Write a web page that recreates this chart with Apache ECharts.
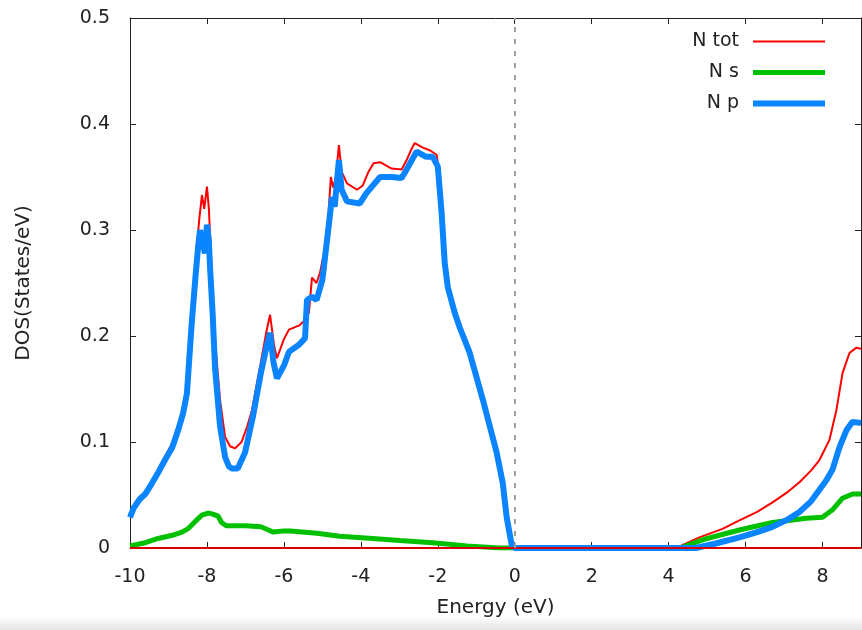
<!DOCTYPE html>
<html>
<head>
<meta charset="utf-8">
<script src="https://cdn.jsdelivr.net/npm/echarts@6/dist/echarts.min.js"></script>
<style>html,body{margin:0;padding:0;background:#fff;}#c{width:862px;height:630px;}</style>
</head>
<body>
<div id="c"></div>
<script>
// ---- data ----
const xTicks = [-10, -8, -6, -4, -2, 0, 2, 4, 6, 8];
const yTicks = [0, 0.1, 0.2, 0.3, 0.4, 0.5];
const seriesNames = ['N tot', 'N s', 'N p'];

const totE = [-10, -9.75, -9.5, -9.27, -9.09, -8.9, -8.75, -8.62, -8.52, -8.4, -8.3, -8.2, -8.13, -8.07, -8.0, -7.95, -7.9, -7.8, -7.66, -7.53, -7.4, -7.27, -7.1, -6.95, -6.83, -6.6, -6.45, -6.36, -6.25, -6.18, -6.0, -5.87, -5.6, -5.45, -5.35, -5.27, -5.15, -5.06, -4.95, -4.85, -4.78, -4.72, -4.65, -4.57, -4.5, -4.36, -4.1, -3.95, -3.8, -3.67, -3.5, -3.2, -2.94, -2.81, -2.7, -2.6, -2.4, -2.2, -2.03, -1.95, -1.9, -1.82, -1.74, -1.56, -1.43, -1.17, -0.83, -0.47, -0.31, -0.21, -0.08, 0, 4.2, 4.8, 5.4, 5.84, 6.3, 6.7, 7.1, 7.4, 7.7, 7.92, 8.18, 8.36, 8.52, 8.7, 8.88, 9];
const totDos = [0.032, 0.048, 0.056, 0.074, 0.086, 0.099, 0.116, 0.132, 0.152, 0.22, 0.27, 0.31, 0.333, 0.32, 0.341, 0.32, 0.28, 0.2, 0.14, 0.105, 0.096, 0.094, 0.1, 0.115, 0.13, 0.175, 0.205, 0.22, 0.19, 0.179, 0.197, 0.206, 0.21, 0.215, 0.222, 0.255, 0.25, 0.26, 0.28, 0.31, 0.35, 0.34, 0.35, 0.38, 0.355, 0.344, 0.338, 0.342, 0.355, 0.363, 0.364, 0.358, 0.357, 0.366, 0.375, 0.382, 0.378, 0.375, 0.371, 0.35, 0.33, 0.272, 0.25, 0.227, 0.21, 0.186, 0.142, 0.092, 0.062, 0.03, 0.004, 0, 0, 0.01, 0.018, 0.026, 0.034, 0.043, 0.053, 0.062, 0.073, 0.083, 0.102, 0.13, 0.165, 0.184, 0.189, 0.188];

const sE = [-10, -9.6, -9.27, -8.9, -8.65, -8.5, -8.39, -8.25, -8.13, -7.97, -7.85, -7.71, -7.62, -7.5, -7.0, -6.6, -6.4, -6.29, -6.0, -5.84, -5.14, -4.55, -3.69, -2.99, -2.13, -1.25, -0.4, 4.3, 4.6, 5.0, 5.84, 6.7, 7.58, 8.0, 8.26, 8.52, 8.78, 9];
const sDos = [0.002, 0.005, 0.009, 0.012, 0.015, 0.018, 0.022, 0.027, 0.031, 0.033, 0.032, 0.03, 0.024, 0.021, 0.021, 0.02, 0.017, 0.015, 0.016, 0.016, 0.014, 0.011, 0.009, 0.007, 0.005, 0.002, 0, 0, 0.004, 0.009, 0.017, 0.024, 0.028, 0.029, 0.036, 0.047, 0.051, 0.051];

const pE = [-10, -9.9, -9.75, -9.6, -9.43, -9.27, -9.09, -8.9, -8.75, -8.62, -8.52, -8.4, -8.3, -8.23, -8.18, -8.1, -8.05, -8.0, -7.95, -7.92, -7.85, -7.79, -7.66, -7.53, -7.43, -7.35, -7.2, -7.01, -6.8, -6.6, -6.45, -6.36, -6.27, -6.18, -6.0, -5.87, -5.6, -5.45, -5.4, -5.27, -5.15, -5.0, -4.88, -4.75, -4.68, -4.57, -4.5, -4.36, -4.03, -3.85, -3.5, -3.2, -2.94, -2.81, -2.55, -2.3, -2.13, -2.0, -1.9, -1.82, -1.74, -1.56, -1.43, -1.17, -0.83, -0.47, -0.31, -0.21, -0.08, 0, 4.7, 5.2, 5.84, 6.3, 6.7, 7.1, 7.4, 7.7, 7.92, 8.1, 8.26, 8.44, 8.62, 8.78, 9];
const pDos = [0.029, 0.038, 0.046, 0.051, 0.061, 0.071, 0.083, 0.095, 0.111, 0.127, 0.146, 0.21, 0.255, 0.284, 0.3, 0.285, 0.278, 0.305, 0.29, 0.265, 0.22, 0.17, 0.115, 0.086, 0.077, 0.075, 0.075, 0.09, 0.125, 0.165, 0.19, 0.203, 0.175, 0.16, 0.172, 0.185, 0.192, 0.198, 0.234, 0.237, 0.234, 0.253, 0.29, 0.331, 0.322, 0.366, 0.338, 0.327, 0.325, 0.335, 0.35, 0.35, 0.349, 0.357, 0.374, 0.369, 0.369, 0.36, 0.316, 0.269, 0.246, 0.222, 0.208, 0.184, 0.14, 0.09, 0.061, 0.029, 0.003, 0, 0, 0.004, 0.01, 0.015, 0.02, 0.027, 0.034, 0.044, 0.055, 0.064, 0.074, 0.095, 0.111, 0.119, 0.118];

function pairs(xs, ys) { return xs.map((x, i) => [x, ys[i]]); }

const FONT = 'DejaVu Sans';
const chart = echarts.init(document.getElementById('c'), null, {renderer: 'canvas'});
const axisLine = {show: true, onZero: false, lineStyle: {color: '#222', width: 1}};
const tick = {show: true, inside: true, length: 6, lineStyle: {color: '#222', width: 1}};

chart.setOption({
  animation: false,
  backgroundColor: '#fff',
  graphic: [{
    type: 'rect', z: -10, silent: true, shape: {x: 0, y: 616, width: 862, height: 14},
    style: {fill: new echarts.graphic.LinearGradient(0, 0, 0, 1, [{offset: 0, color: '#ffffff'}, {offset: 1, color: '#e4e4e4'}])}
  }],
  grid: {left: 130, right: 1, top: 18, bottom: 82, containLabel: false},
  legend: {
    orient: 'vertical', align: 'right', right: 32, top: 27,
    itemWidth: 72, itemHeight: 14, itemGap: 12,
    textStyle: {fontFamily: FONT, fontSize: 19, color: '#222', padding: [0, 9, 0, 0]},
    data: [
      {name: seriesNames[0], icon: 'path://M0,0H72V2H0Z'},
      {name: seriesNames[1], icon: 'path://M0,0H72V5H0Z'},
      {name: seriesNames[2], icon: 'path://M0,0H72V6H0Z'}
    ]
  },
  xAxis: [{
    type: 'value', min: -10, max: 9, interval: 2, position: 'bottom',
    name: 'Energy (eV)', nameLocation: 'middle', nameGap: 50,
    nameTextStyle: {fontFamily: FONT, fontSize: 20, color: '#222'},
    axisLine: axisLine, splitLine: {show: false},
    axisLabel: {fontFamily: FONT, fontSize: 19, color: '#222', margin: 20, customValues: xTicks},
    axisTick: Object.assign({}, tick, {customValues: xTicks})
  }, {
    type: 'value', min: -10, max: 9, interval: 2, position: 'top',
    axisLine: axisLine, axisTick: Object.assign({}, tick, {customValues: xTicks}),
    axisLabel: {show: false}, splitLine: {show: false}
  }],
  yAxis: [{
    type: 'value', min: 0, max: 0.5, interval: 0.1, position: 'left',
    name: 'DOS(States/eV)', nameLocation: 'middle', nameGap: 96, nameRotate: 90,
    nameTextStyle: {fontFamily: FONT, fontSize: 20, color: '#222'},
    axisLine: axisLine, axisTick: tick, splitLine: {show: false},
    axisLabel: {fontFamily: FONT, fontSize: 19, color: '#222', margin: 20,
      customValues: yTicks, formatter: v => String(Math.round(v * 10) / 10)}
  }, {
    type: 'value', min: 0, max: 0.5, interval: 0.1, position: 'right',
    axisLine: axisLine, axisTick: tick, axisLabel: {show: false}, splitLine: {show: false}
  }],
  series: [{
    name: seriesNames[0], type: 'line', data: pairs(totE, totDos),
    showSymbol: false, symbol: 'none', color: '#ff0000',
    lineStyle: {width: 2, color: '#ff0000'}, z: 2,
    markLine: {
      silent: true, symbol: 'none', label: {show: false},
      lineStyle: {color: '#d80000', width: 2, type: 'solid'},
      data: [{yAxis: 0}]
    }
  }, {
    name: seriesNames[1], type: 'line', data: pairs(sE, sDos),
    showSymbol: false, symbol: 'none', color: '#00c000',
    lineStyle: {width: 5, color: '#00c000'}, z: 3
  }, {
    name: seriesNames[2], type: 'line', data: pairs(pE, pDos),
    showSymbol: false, symbol: 'none', color: '#0a84ff',
    lineStyle: {width: 6, color: '#0a84ff'}, z: 4,
    markLine: {
      silent: true, symbol: 'none', label: {show: false},
      lineStyle: {color: '#a0a0a0', width: 2, type: [5, 7]},
      data: [{xAxis: 0}]
    }
  }]
});
</script>
</body>
</html>
